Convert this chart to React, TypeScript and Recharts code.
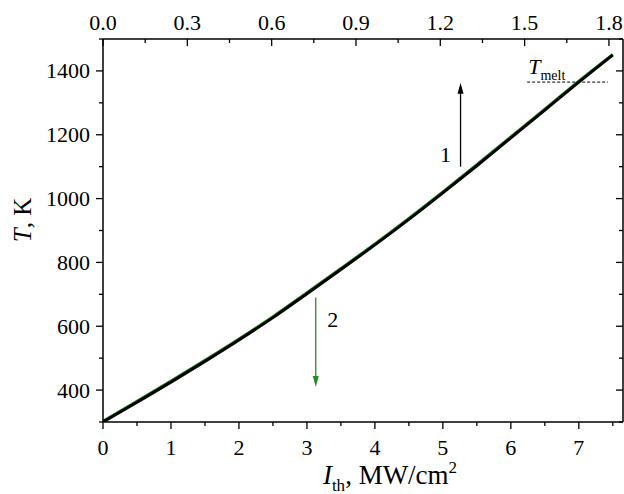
import React from 'react';
import { ComposedChart, Line, XAxis, YAxis, ReferenceLine } from 'recharts';

// threshold intensity, MW/cm^2
const intensity = [0, 0.5, 1, 1.5, 2, 2.5, 3, 3.5, 4, 4.5, 5, 5.5, 6, 6.5, 7, 7.5];
// temperature, K
const tempCurve1 = [300, 362, 425, 490, 557, 627, 702, 778, 855, 935, 1018, 1103, 1190, 1277, 1365, 1450];
const tempCurve2 = [302, 365, 428, 493, 560, 630, 705, 781, 858, 938, 1021, 1106, 1193, 1280, 1368, 1452];

const bottomTicks = [0, 0.5, 1, 1.5, 2, 2.5, 3, 3.5, 4, 4.5, 5, 5.5, 6, 6.5, 7, 7.5];
const topTicks = [0, 0.15, 0.3, 0.45, 0.6, 0.75, 0.9, 1.05, 1.2, 1.35, 1.5, 1.65, 1.8];
const tempTicks = [300, 400, 500, 600, 700, 800, 900, 1000, 1100, 1200, 1300, 1400, 1500];

const meltTemp = 1365;
const meltRange = [6.24, 7.43];
const arrow1 = { x: 5.26, from: 1100, to: 1363 };
const arrow2 = { x: 3.13, from: 690, to: 410 };

const data = intensity.map((x, i) => ({ x, t1: tempCurve1[i], t2: tempCurve2[i] }));

const FONT = '"Liberation Serif", "Times New Roman", Times, serif';
const GREEN = '#2a8a2a';

const BottomTick = ({ x, y, payload }: any) => {
  const major = Number.isInteger(payload.value);
  return (
    <g>
      <line x1={x} x2={x} y1={y} y2={y + (major ? 7 : 4)} stroke="#000" strokeWidth={1.3} />
      {major && (
        <text x={x} y={y + 33} textAnchor="middle" style={{ fontFamily: FONT }} fontSize={22} fill="#000">
          {payload.value}
        </text>
      )}
    </g>
  );
};

const TopTick = ({ x, y, payload }: any) => {
  const major = Math.round(payload.value / 0.15) % 2 === 0;
  return (
    <g>
      <line x1={x} x2={x} y1={y} y2={y + (major ? 7 : 4)} stroke="#000" strokeWidth={1.3} />
      {major && (
        <text x={x} y={y - 9} textAnchor="middle" style={{ fontFamily: FONT }} fontSize={22} fill="#000">
          {payload.value.toFixed(1)}
        </text>
      )}
    </g>
  );
};

const LeftTick = ({ x, y, payload }: any) => {
  const major = payload.value % 200 === 0;
  return (
    <g>
      <line x1={x - (major ? 7 : 4)} x2={x} y1={y} y2={y} stroke="#000" strokeWidth={1.3} />
      {major && (
        <text x={x - 13} y={y + 7.5} textAnchor="end" style={{ fontFamily: FONT }} fontSize={22} fill="#000">
          {payload.value}
        </text>
      )}
    </g>
  );
};

const RightTick = ({ x, y, payload }: any) => {
  const major = payload.value % 200 === 0;
  return <line x1={x - (major ? 7 : 4)} x2={x} y1={y} y2={y} stroke="#000" strokeWidth={1.3} />;
};

const XLabel = ({ viewBox }: any) => {
  const cx = viewBox.x + viewBox.width / 2 + 27;
  return (
    <text x={cx} y={viewBox.y + 62} textAnchor="middle" style={{ fontFamily: FONT }} fontSize={27} fill="#000">
      <tspan fontStyle="italic">I</tspan>
      <tspan fontSize={17} dy={7}>th</tspan>
      <tspan dy={-7}>, MW/cm</tspan>
      <tspan fontSize={17} dy={-11}>2</tspan>
    </text>
  );
};

const YLabel = () => (
  <text
    x={22}
    y={220}
    transform="rotate(-90 22 220)"
    textAnchor="middle"
    dominantBaseline="central"
    style={{ fontFamily: FONT }}
    fontSize={25}
    fill="#000"
  >
    <tspan fontStyle="italic">T</tspan>
    <tspan>, K</tspan>
  </text>
);

const arrowShape = (color: string, label: string, labelDx: number, labelDy: number) => (props: any) => {
  const { x1, y1, x2, y2 } = props;
  if (x1 == null) return <g />;
  const dir = y2 < y1 ? 1 : -1;
  return (
    <g>
      <line x1={x1} y1={y1} x2={x2} y2={y2 + dir * 4} stroke={color} strokeWidth={1.3} />
      <path d={`M${x2},${y2} L${x2 - 3},${y2 + dir * 11} L${x2 + 3},${y2 + dir * 11} Z`} fill={color} />
      <text
        x={x1 + labelDx}
        y={Math.max(y1, y2) + labelDy}
        textAnchor="middle"
        style={{ fontFamily: FONT }}
        fontSize={22}
        fill="#000"
      >
        {label}
      </text>
    </g>
  );
};

const meltShape = (props: any) => {
  const { x1, y1, x2, y2 } = props;
  if (x1 == null) return <g />;
  return (
    <g>
      <line x1={x1} y1={y1} x2={x2} y2={y2} stroke="#000" strokeWidth={1} strokeDasharray="3 2" />
      <text x={x1 + 1} y={y1 - 8} style={{ fontFamily: FONT }} fontSize={22} fill="#000">
        <tspan fontStyle="italic">T</tspan>
        <tspan fontSize={14} dy={6}>melt</tspan>
      </text>
    </g>
  );
};

const App = () => {
  return (
    <div style={{ position: 'absolute', left: 0, top: 0, width: 624, height: 494, background: '#fff' }}>
      <ComposedChart width={624} height={494} data={data} margin={{ top: 0, right: 0, bottom: 0, left: 0 }}>
        <XAxis
          dataKey="x"
          type="number"
          domain={[0, 7.65]}
          ticks={bottomTicks}
          interval={0}
          height={72}
          tickSize={0}
          tickMargin={0}
          tickLine={false}
          axisLine={{ stroke: '#000', strokeWidth: 1.5 }}
          tick={<BottomTick />}
          allowDataOverflow
          label={<XLabel />}
        />
        <XAxis
          xAxisId="top"
          dataKey="x"
          orientation="top"
          type="number"
          domain={[0, 1.85]}
          ticks={topTicks}
          interval={0}
          height={39}
          tickSize={0}
          tickMargin={0}
          tickLine={false}
          axisLine={{ stroke: '#000', strokeWidth: 1.5 }}
          tick={<TopTick />}
          allowDataOverflow
        />
        <YAxis
          type="number"
          domain={[300, 1500]}
          ticks={tempTicks}
          interval={0}
          width={103}
          tickSize={0}
          tickMargin={0}
          tickLine={false}
          axisLine={{ stroke: '#000', strokeWidth: 1.5 }}
          tick={<LeftTick />}
          allowDataOverflow
          label={<YLabel />}
        />
        <YAxis
          yAxisId="right"
          orientation="right"
          type="number"
          domain={[300, 1500]}
          ticks={tempTicks}
          interval={0}
          width={1}
          tickSize={0}
          tickMargin={0}
          tickLine={false}
          axisLine={{ stroke: '#000', strokeWidth: 1.5 }}
          tick={<RightTick />}
          allowDataOverflow
        />
        <Line
          dataKey="t2"
          type="monotone"
          stroke={GREEN}
          strokeWidth={3}
          dot={false}
          isAnimationActive={false}
        />
        <Line
          dataKey="t1"
          type="monotone"
          stroke="#000"
          strokeWidth={3}
          dot={false}
          isAnimationActive={false}
        />
        <ReferenceLine
          segment={[{ x: meltRange[0], y: meltTemp }, { x: meltRange[1], y: meltTemp }]}
          shape={meltShape}
        />
        <ReferenceLine
          segment={[{ x: arrow1.x, y: arrow1.from }, { x: arrow1.x, y: arrow1.to }]}
          shape={arrowShape('#000', '1', -15, -5)}
        />
        <ReferenceLine
          segment={[{ x: arrow2.x, y: arrow2.from }, { x: arrow2.x, y: arrow2.to }]}
          shape={arrowShape(GREEN, '2', 17, -60)}
        />
      </ComposedChart>
    </div>
  );
};

export default App;
